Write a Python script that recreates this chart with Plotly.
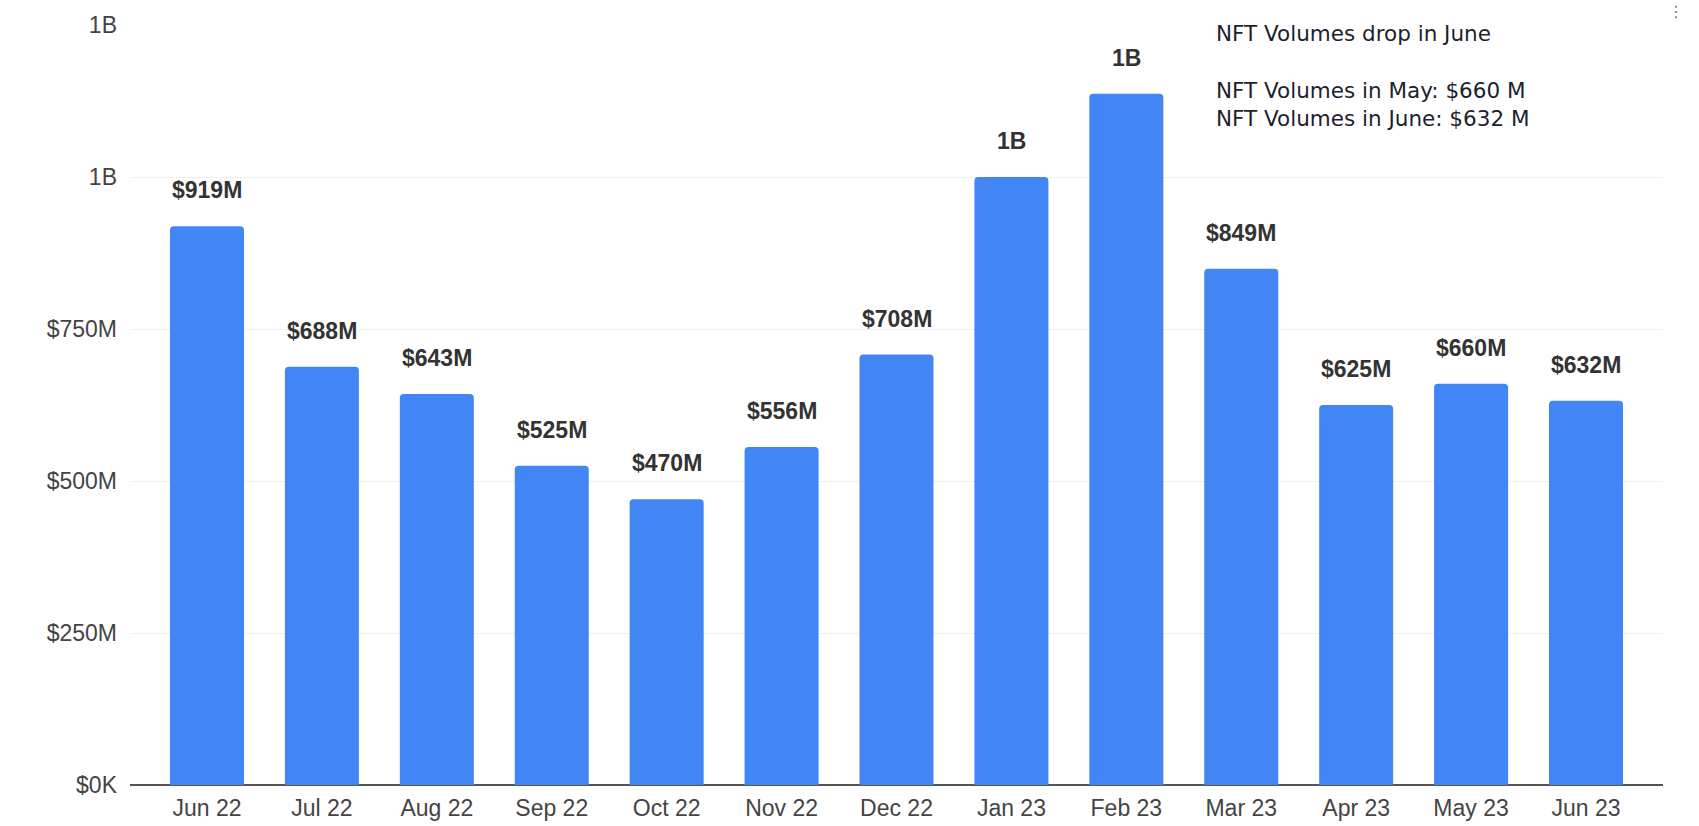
import plotly.graph_objects as go

months = ["Jun 22", "Jul 22", "Aug 22", "Sep 22", "Oct 22", "Nov 22", "Dec 22",
          "Jan 23", "Feb 23", "Mar 23", "Apr 23", "May 23", "Jun 23"]
volumes_m = [919, 688, 643, 525, 470, 556, 708, 1000, 1137, 849, 625, 660, 632]
tick_vals = [0, 250, 500, 750, 1000, 1250]
tick_text = ["$0K", "$250M", "$500M", "$750M", "1B", "1B"]
note_title = "NFT Volumes drop in June"
note_lines = ["NFT Volumes in May: $660 M",
              "NFT Volumes in June: $632 M"]


def fmt(v):
    return f"${v}M" if v < 1000 else f"{round(v / 1000)}B"


W, H = 1699, 826
L, R, T, B = 130, 36, 25, 41
PH = H - T - B
PW = W - L - R


def py(p):
    return (H - B - p) / PH


def px(p):
    return (p - L) / PW


fig = go.Figure()
fig.add_trace(go.Bar(
    x=list(range(len(months))), y=volumes_m,
    marker=dict(color="#4285F4", cornerradius=4, line=dict(width=0)),
    hoverinfo="skip",
))

for i, v in enumerate(volumes_m):
    fig.add_annotation(x=i, y=v, xref="x", yref="y", text=fmt(v), showarrow=False,
                       yanchor="middle", yshift=36,
                       font=dict(family="Liberation Sans, Arial", size=23, color="#333333", weight="bold"))

note_font = dict(family="DejaVu Sans", size=21.5, color="#1c1f2e")
fig.add_annotation(x=px(1214), y=py(34), xref="paper", yref="paper", text=note_title,
                   showarrow=False, xanchor="left", yanchor="middle", font=note_font)
fig.add_annotation(x=px(1214), y=py(104), xref="paper", yref="paper",
                   text="<br>".join(note_lines), align="left",
                   showarrow=False, xanchor="left", yanchor="middle", font=note_font)

fig.add_annotation(x=px(1676), y=py(11), xref="paper", yref="paper", text="⋮",
                   showarrow=False, xanchor="center", yanchor="middle",
                   font=dict(family="DejaVu Sans", size=16, color="#777777"))

fig.update_layout(
    width=W, height=H,
    margin=dict(l=L, r=R, t=T, b=B, pad=0, autoexpand=False),
    plot_bgcolor="white", paper_bgcolor="white",
    bargap=0.356, showlegend=False,
    xaxis=dict(range=[-0.67, len(months) - 1 + 0.67], tickmode="array",
               tickvals=list(range(len(months))), ticktext=months,
               showgrid=False, zeroline=False, showline=False, ticks="",
               ticklabelstandoff=7, automargin=False,
               tickfont=dict(family="Liberation Sans, Arial", size=23, color="#444444"),
               fixedrange=True),
    yaxis=dict(range=[0, 1250], tickmode="array", tickvals=tick_vals, ticktext=tick_text,
               showgrid=True, gridcolor="#f0f0f0", gridwidth=1,
               zeroline=True, zerolinecolor="#555555", zerolinewidth=2,
               showline=False, ticks="", ticklabelstandoff=12, automargin=False,
               tickfont=dict(family="Liberation Sans, Arial", size=23, color="#444444"),
               fixedrange=True),
)

fig.write_html("out.html", config={"displayModeBar": False})
